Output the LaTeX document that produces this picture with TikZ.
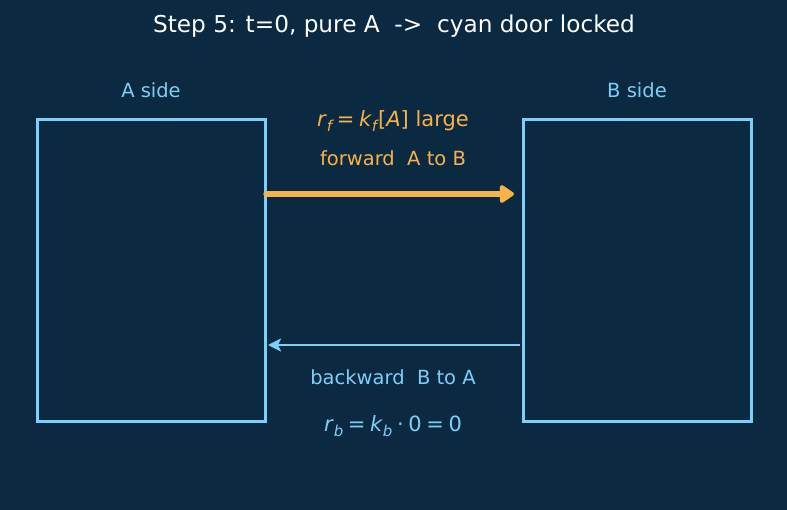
\documentclass[tikz,border=0pt]{standalone}
\usepackage{fontspec}
\setmainfont{DejaVu Sans}
\usetikzlibrary{arrows.meta}
\definecolor{bg}{HTML}{0B2940}
\definecolor{cyanc}{HTML}{7DCFF7}
\definecolor{orangec}{HTML}{F8B24A}
\newcommand{\mysub}[1]{\raisebox{-0.4ex}{\fontsize{15}{16}\selectfont\itshape #1}}
\newcommand{\eqsp}{\hspace{0.22em}}
\begin{document}
\begin{tikzpicture}[x=1pt,y=-1pt,
  sidebox/.style={draw=cyanc,line width=3pt},
  lbl/.style={font=\fontsize{19.5}{23}\selectfont,inner sep=0pt,anchor=center}]
\fill[bg] (0,0) rectangle (787,510);
\useasboundingbox (0,0) rectangle (787,510);
\node[lbl,text=white,font=\fontsize{23.2}{27}\selectfont] (title) at (394,26) {Step 5: t=0, pure A\ \ ->\ \ cyan door locked};
\node[sidebox,minimum width=228pt,minimum height=301pt,inner sep=0pt] (A) at (151,270.5) {};
\node[sidebox,minimum width=228pt,minimum height=301pt,inner sep=0pt] (B) at (637,270.5) {};
\node[lbl,text=cyanc] (la) at (151,90) {A side};
\node[lbl,text=cyanc] (lb) at (637,90) {B side};
\node[lbl,text=orangec,font=\fontsize{21}{24}\selectfont] (rf) at (393,121) {\textit{r}\mysub{f}\eqsp=\eqsp\textit{k}\mysub{f}\kern0.05em[\textit{A}] large};
\node[lbl,text=orangec] (fw) at (393,158) {forward\ \ A to B};
\node[lbl,text=cyanc] (bw) at (393,377) {backward\ \ B to A};
\node[lbl,text=cyanc,font=\fontsize{21}{24}\selectfont] (rb) at (393,426) {\textit{r}\mysub{b}\eqsp=\eqsp\textit{k}\mysub{b}\eqsp·\eqsp0\eqsp=\eqsp0};
\coordinate (fs) at (A.east |- 0,194);
\coordinate (fe) at (514,194);
\draw[orangec,line width=6.5pt,line cap=round,-{Triangle[round,length=16pt,width=20pt]}] (fs) -- (fe);
\coordinate (bs) at (520,345);
\coordinate (be) at (268,345);
\draw[cyanc,line width=2.4pt,-{Stealth[length=13pt,width=13pt,inset=3pt]}] (bs) -- (be);
\end{tikzpicture}
\end{document}
